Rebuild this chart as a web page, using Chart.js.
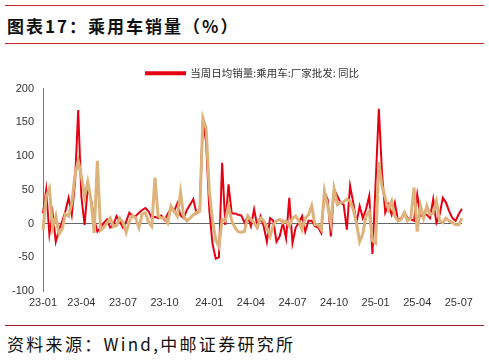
<!DOCTYPE html>
<html><head><meta charset="utf-8">
<script src="https://cdn.jsdelivr.net/npm/chart.js@4/dist/chart.umd.min.js"></script>
<style>
html,body{margin:0;padding:0;background:#fff;}
body{width:489px;height:360px;position:relative;overflow:hidden;font-family:"Noto Sans CJK SC","Noto Sans",sans-serif;}
.rule{position:absolute;left:5px;width:479px;height:1px;background:#c8262c;}
#title{position:absolute;left:7px;top:11px;font-size:17px;font-weight:bold;letter-spacing:2px;color:#111;line-height:30px;white-space:nowrap;}
#foot{position:absolute;left:7px;top:331px;font-size:17px;letter-spacing:2.3px;color:#111;line-height:26px;white-space:nowrap;}
#wrap{position:absolute;left:0;top:57px;width:489px;height:264px;}
</style></head><body>
<div class="rule" style="top:5px"></div>
<div id="title">图表17：乘用车销量（%）</div>
<div class="rule" style="top:43px"></div>
<div id="wrap"><canvas id="c" width="489" height="264"></canvas></div>
<div class="rule" style="top:325px;background:#a31d22"></div>
<div id="foot">资料来源：Wind,中邮证券研究所</div>
<script>
// weekly observations, first week of Jan 2023 to mid Jul 2025
const startDate = '2023-01-08';
const weekCount = 132;
const tickLabels = ['23-01','23-04','23-07','23-10','24-01','24-04','24-07','24-10','25-01','25-04','25-07'];
const seriesNames = ['当周日均销量:乘用车:厂家批发: 同比', '当周日均销量:乘用车:零售: 同比'];
const wholesaleYoY = [
 15,50,-16,16,-27,-9,3,18,38,13,60,168,40,-2,55,36,6,-12,-6,1,
 6,-6,-2,11,3,-6,3,16,11,11,16,20,23,18,8,10,8,12,5,14,
 22,18,30,12,8,20,28,36,15,18,155,120,20,-30,-52,-50,90,-2,58,15,
 15,13,12,1,11,-4,21,-4,11,-4,-27,8,4,-27,-19,1,-22,38,-29,-6,
 1,11,-12,4,4,-4,-6,-14,46,36,-19,51,41,31,28,-9,56,31,1,26,
 8,21,41,-45,60,170,74,16,28,13,31,4,8,17,8,6,4,43,11,13,
 13,8,36,1,13,38,31,18,8,4,14,22
];
const retailYoY = [
 -10,40,52,-6,11,-16,-8,14,11,30,71,93,70,40,62,35,-14,93,-10,-6,
 1,8,-5,-3,8,2,-13,3,12,8,-6,14,16,2,-4,68,11,8,8,1,
 26,18,11,46,10,4,8,13,16,18,156,141,48,5,-24,-34,6,4,26,4,
 -6,-12,-13,-12,11,6,1,-6,8,4,-6,-19,-2,4,6,1,4,-4,8,11,
 4,-9,8,13,26,-2,-2,-9,48,26,1,51,28,31,32,36,33,21,1,-27,
 -15,11,18,-25,-29,91,55,38,21,33,11,4,6,16,4,8,53,-12,26,8,
 26,13,16,33,4,1,8,4,1,-2,-2,8
];
const yTicks = [-100,-50,0,50,100,150,200];

const categories = [];
{
  const d0 = new Date(startDate + 'T00:00:00Z');
  for (let i = 0; i < weekCount; i++) {
    const d = new Date(d0.getTime() + i * 7 * 86400000);
    categories.push(d.toISOString().slice(0,10));
  }
}
function tickFor(idx){
  const cur = categories[idx];
  const lab = cur.slice(2,4) + '-' + cur.slice(5,7);
  const prev = idx > 0 ? categories[idx-1].slice(5,7) : null;
  return (prev !== cur.slice(5,7) && tickLabels.includes(lab)) ? lab : '';
}

const RED = 'rgb(230,0,18)';
const TAN = 'rgb(221,178,123)';
new Chart(document.getElementById('c'), {
  type: 'line',
  data: {
    labels: categories,
    datasets: [
      {label: seriesNames[0], data: wholesaleYoY, borderColor: RED, backgroundColor: RED, borderWidth: 2, pointRadius: 0, tension: 0, order: 2},
      {label: seriesNames[1], data: retailYoY, borderColor: TAN, backgroundColor: TAN, borderWidth: 3, pointRadius: 0, tension: 0, order: 1}
    ]
  },
  options: {
    responsive: false,
    animation: false,
    devicePixelRatio: 1,
    layout: {padding: {left: 0, right: 27, top: 0, bottom: 0}},
    plugins: {
      tooltip: {enabled: false},
      legend: {
        display: true, position: 'top', fullSize: false,
        labels: {
          boxWidth: 39, boxHeight: 2, padding: 11, color: '#333',
          font: {family: '"Noto Sans CJK SC", sans-serif', size: 10.5},
          filter: (item) => item.datasetIndex === 0
        }
      }
    },
    scales: {
      x: {
        type: 'category',
        grid: {display: false, drawTicks: false},
        border: {display: false},
        ticks: {
          autoSkip: false, maxRotation: 0, minRotation: 0, padding: 5,
          color: '#333', font: {family: '"Liberation Sans", Arial, sans-serif', size: 11},
          callback: (v, i) => tickFor(i)
        },
        afterFit: (s) => { s.height = 30; }
      },
      y: {
        min: -100, max: 200,
        afterBuildTicks: (s) => { s.ticks = yTicks.map(v => ({value: v})); },
        grid: {
          drawTicks: false,
          color: (ctx) => (ctx.tick && ctx.tick.value === 0) ? '#666' : 'rgba(0,0,0,0)',
          lineWidth: 1
        },
        border: {display: true, color: '#777', width: 1},
        ticks: {padding: 9, color: '#333', font: {family: '"Liberation Sans", Arial, sans-serif', size: 11}},
        afterFit: (s) => { s.width = 43; }
      }
    }
  }
});
</script>
</body></html>
